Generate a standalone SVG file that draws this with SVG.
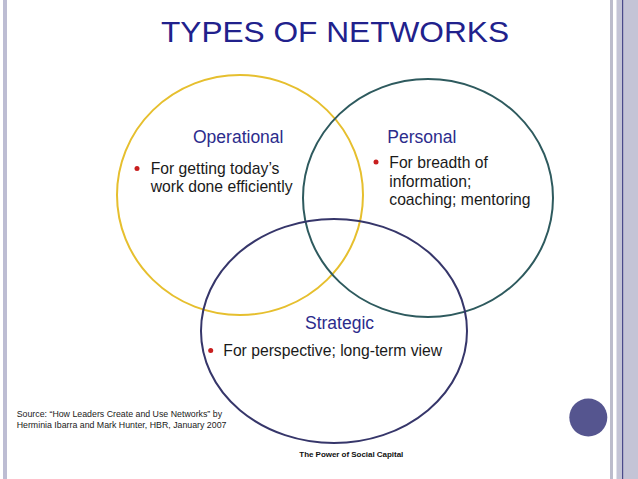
<svg xmlns="http://www.w3.org/2000/svg" width="638" height="479" viewBox="0 0 638 479">
<style>
.lbl{font-family:"Liberation Sans",Arial,sans-serif;font-size:17.5px;fill:#2c2c8c}
.txt{font-family:"Liberation Sans",Arial,sans-serif;font-size:15.7px;fill:#1a1a1a}
.src{font-family:"Liberation Sans",Arial,sans-serif;font-size:8.8px;fill:#1a1a1a}
.bul{fill:#c81e1e}
.ring{fill:none;stroke-width:2}
</style>
<rect width="638" height="479" fill="#ffffff"/>
<g id="frame">
<rect x="3" y="0" width="4" height="479" fill="#bdbdd3"/>
<rect x="610" y="0" width="3" height="479" fill="#bcbccc"/>
<rect x="616.5" y="0" width="21.5" height="479" fill="#c4c4d6"/>
<rect x="622" y="0" width="1.2" height="479" fill="#4a4a8a"/>
</g>
<text x="161" y="42" font-family="Liberation Sans, Arial, sans-serif" font-size="29" fill="#21218c" textLength="348" lengthAdjust="spacingAndGlyphs">TYPES OF NETWORKS</text>
<g id="connectors"></g>
<g id="operational">
<ellipse class="ring" cx="240" cy="195" rx="123" ry="120" stroke="#e6bf2e"/>
<text class="lbl" x="193" y="143">Operational</text>
<circle class="bul" cx="137" cy="168.5" r="2.5"/>
<text class="txt" x="150.7" y="174">For getting today’s</text>
<text class="txt" x="150.7" y="192">work done efficiently</text>
</g>
<g id="personal">
<ellipse class="ring" cx="428" cy="198" rx="125" ry="119" stroke="#2e5a5e"/>
<text class="lbl" x="387.3" y="143">Personal</text>
<circle class="bul" cx="376" cy="162" r="2.5"/>
<text class="txt" x="389.3" y="168">For breadth of</text>
<text class="txt" x="389.3" y="186.5">information;</text>
<text class="txt" x="389.3" y="205">coaching; mentoring</text>
</g>
<g id="strategic">
<ellipse class="ring" cx="334" cy="331" rx="133" ry="112" stroke="#36366a"/>
<text class="lbl" x="305" y="329">Strategic</text>
<circle class="bul" cx="210.7" cy="350.5" r="2.5"/>
<text class="txt" x="223.3" y="355.5">For perspective; long-term view</text>
</g>
<g id="footer">
<text class="src" x="16.7" y="417.3">Source:  “How Leaders Create and Use Networks” by</text>
<text class="src" x="16.7" y="427.5">Herminia Ibarra and Mark Hunter, HBR, January 2007</text>
<text x="299.3" y="457.3" font-family="Liberation Sans, Arial, sans-serif" font-size="8" font-weight="bold" fill="#111111" textLength="104">The Power of Social Capital</text>
<circle cx="588.3" cy="417.5" r="19" fill="#55558f"/>
</g>
</svg>
